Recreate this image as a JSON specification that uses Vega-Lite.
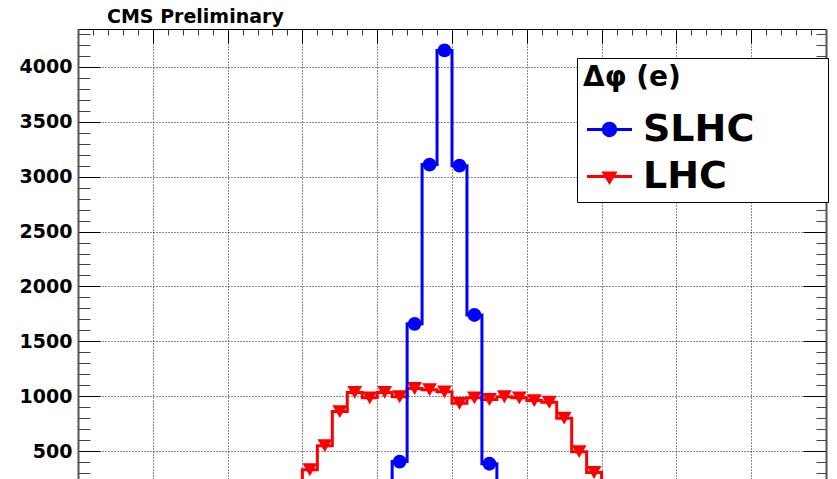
{
  "$schema": "https://vega.github.io/schema/vega-lite/v6.json",
  "width": 748,
  "height": 450,
  "autosize": {"type": "none"},
  "padding": {"left": 78, "top": 29, "right": 11, "bottom": 0},
  "background": "white",
  "title": {"text": "CMS Preliminary", "anchor": "start", "frame": "group", "dx": 29, "dy": 19, "offset": 6, "font": "DejaVu Sans", "fontSize": 19, "fontWeight": "bold", "color": "#000", "baseline": "alphabetic"},
  "config": {"view": {"stroke": null}},
  "data": {"values": [
    {"series": "SLHC", "bin": 19.5, "count": 5},
    {"series": "SLHC", "bin": 20.5, "count": 40},
    {"series": "SLHC", "bin": 21.5, "count": 405},
    {"series": "SLHC", "bin": 22.5, "count": 1660},
    {"series": "SLHC", "bin": 23.5, "count": 3110},
    {"series": "SLHC", "bin": 24.5, "count": 4150},
    {"series": "SLHC", "bin": 25.5, "count": 3100},
    {"series": "SLHC", "bin": 26.5, "count": 1740},
    {"series": "SLHC", "bin": 27.5, "count": 385},
    {"series": "SLHC", "bin": 28.5, "count": 40},
    {"series": "SLHC", "bin": 29.5, "count": 5},
    {"series": "LHC", "bin": 12.5, "count": 20},
    {"series": "LHC", "bin": 13.5, "count": 70},
    {"series": "LHC", "bin": 14.5, "count": 180},
    {"series": "LHC", "bin": 15.5, "count": 330},
    {"series": "LHC", "bin": 16.5, "count": 550},
    {"series": "LHC", "bin": 17.5, "count": 860},
    {"series": "LHC", "bin": 18.5, "count": 1035},
    {"series": "LHC", "bin": 19.5, "count": 985},
    {"series": "LHC", "bin": 20.5, "count": 1035},
    {"series": "LHC", "bin": 21.5, "count": 995},
    {"series": "LHC", "bin": 22.5, "count": 1070},
    {"series": "LHC", "bin": 23.5, "count": 1060},
    {"series": "LHC", "bin": 24.5, "count": 1040},
    {"series": "LHC", "bin": 25.5, "count": 935},
    {"series": "LHC", "bin": 26.5, "count": 985},
    {"series": "LHC", "bin": 27.5, "count": 970},
    {"series": "LHC", "bin": 28.5, "count": 995},
    {"series": "LHC", "bin": 29.5, "count": 985},
    {"series": "LHC", "bin": 30.5, "count": 960},
    {"series": "LHC", "bin": 31.5, "count": 945},
    {"series": "LHC", "bin": 32.5, "count": 800},
    {"series": "LHC", "bin": 33.5, "count": 495},
    {"series": "LHC", "bin": 34.5, "count": 305},
    {"series": "LHC", "bin": 35.5, "count": 170},
    {"series": "LHC", "bin": 36.5, "count": 60},
    {"series": "LHC", "bin": 37.5, "count": 20}
  ]},
  "resolve": {"scale": {"x": "shared", "y": "shared"}, "axis": {"x": "independent", "y": "independent"}},
  "layer": [
    {
      "transform": [{"filter": "datum.series === 'LHC'"}],
      "mark": {"type": "line", "interpolate": "step", "color": "#ff0000", "strokeWidth": 3, "clip": true},
      "encoding": {
        "x": {"field": "bin", "type": "quantitative", "scale": {"domain": [0, 50], "nice": false, "zero": false},
          "axis": {"orient": "top", "values": [0, 5, 10, 15, 20, 25, 30, 35, 40, 45, 50], "labels": false, "title": null, "tickSize": -14, "tickColor": "#000", "tickWidth": 1, "domain": true, "domainColor": "#000", "domainWidth": 1, "grid": true, "gridColor": "#000", "gridDash": [1, 2], "gridWidth": 1, "gridOpacity": 0.9}},
        "y": {"field": "count", "type": "quantitative", "scale": {"domain": [246, 4345], "nice": false, "zero": false},
          "axis": {"orient": "left", "values": [500, 1000, 1500, 2000, 2500, 3000, 3500, 4000], "format": "d", "title": null, "tickSize": -22, "tickColor": "#000", "tickWidth": 1, "domain": true, "domainColor": "#555", "domainWidth": 2, "labelFont": "DejaVu Sans", "labelFontWeight": "bold", "labelFontSize": 19, "labelColor": "#000", "labelPadding": 28, "grid": true, "gridColor": "#000", "gridDash": [1, 2], "gridWidth": 1, "gridOpacity": 0.9}}
      }
    },
    {
      "transform": [{"filter": "datum.series === 'LHC'"}],
      "mark": {"type": "point", "filled": true, "shape": "triangle-down", "size": 220, "opacity": 1, "clip": true},
      "encoding": {
        "x": {"field": "bin", "type": "quantitative", "scale": {"domain": [0, 50], "nice": false, "zero": false},
          "axis": {"orient": "top", "values": [1,2,3,4,6,7,8,9,11,12,13,14,16,17,18,19,21,22,23,24,26,27,28,29,31,32,33,34,36,37,38,39,41,42,43,44,46,47,48,49], "labels": false, "title": null, "tickSize": -6, "tickColor": "#333", "tickWidth": 1, "domain": false, "grid": false}},
        "y": {"field": "count", "type": "quantitative", "scale": {"domain": [246, 4345], "nice": false, "zero": false},
          "axis": {"orient": "left", "values": [300,400,600,700,800,900,1100,1200,1300,1400,1600,1700,1800,1900,2100,2200,2300,2400,2600,2700,2800,2900,3100,3200,3300,3400,3600,3700,3800,3900,4100,4200,4300], "labels": false, "title": null, "tickSize": -12, "tickColor": "#444", "tickWidth": 1, "domain": false, "grid": false}},
        "color": {"field": "series", "type": "nominal", "scale": {"domain": ["LHC"], "range": ["#ff0000"]},
          "legend": {"orient": "none", "legendX": 499, "legendY": 29, "title": "Δφ (e)", "titleLimit": 400, "titleFont": "DejaVu Sans", "titleFontSize": 28, "titleFontWeight": "bold", "titleColor": "#000", "titleBaseline": "top", "titlePadding": 62, "labelFont": "DejaVu Sans", "labelFontSize": 38, "labelFontWeight": "bold", "labelColor": "#000", "labelOffset": 11, "labelLimit": 400, "labelExpr": "datum.label + '\u2003\u2003\u2002\u200b'", "symbolOffset": 4, "symbolSize": 2025, "symbolStrokeWidth": 0, "rowPadding": 2, "padding": 6, "fillColor": "white", "strokeColor": "#000",
            "symbolType": "M-1,-0.065L1,-0.065L1,0.065L-1,0.065Z M-0.36,-0.22L0.36,-0.22L0,0.38Z"}}
      }
    },
    {
      "transform": [{"filter": "datum.series === 'SLHC'"}],
      "mark": {"type": "line", "interpolate": "step", "color": "#0000ff", "strokeWidth": 3, "clip": true},
      "encoding": {
        "x": {"field": "bin", "type": "quantitative", "scale": {"domain": [0, 50], "nice": false, "zero": false}, "axis": null},
        "y": {"field": "count", "type": "quantitative", "scale": {"domain": [246, 4345], "nice": false, "zero": false},
          "axis": {"orient": "right", "values": [500, 1000, 1500, 2000, 2500, 3000, 3500, 4000], "labels": false, "title": null, "tickSize": -23, "tickColor": "#000", "tickWidth": 1, "domain": true, "domainColor": "#555", "domainWidth": 2, "grid": false}}
      }
    },
    {
      "transform": [{"filter": "datum.series === 'SLHC'"}],
      "mark": {"type": "point", "filled": true, "shape": "circle", "size": 190, "opacity": 1, "clip": true},
      "encoding": {
        "x": {"field": "bin", "type": "quantitative", "scale": {"domain": [0, 50], "nice": false, "zero": false}, "axis": null},
        "y": {"field": "count", "type": "quantitative", "scale": {"domain": [246, 4345], "nice": false, "zero": false},
          "axis": {"orient": "right", "values": [300,400,600,700,800,900,1100,1200,1300,1400,1600,1700,1800,1900,2100,2200,2300,2400,2600,2700,2800,2900,3100,3200,3300,3400,3600,3700,3800,3900,4100,4200,4300], "labels": false, "title": null, "tickSize": -10, "tickColor": "#444", "tickWidth": 1, "domain": false, "grid": false}},
        "fill": {"field": "series", "type": "nominal", "scale": {"domain": ["SLHC"], "range": ["#0000ff"]},
          "legend": {"orient": "none", "legendX": 505, "legendY": 78, "title": null, "labelFont": "DejaVu Sans", "labelFontSize": 38, "labelFontWeight": "bold", "labelColor": "#000", "labelOffset": 11, "labelLimit": 400, "symbolOffset": 4, "symbolSize": 2025, "symbolStrokeWidth": 0, "padding": 0,
            "symbolType": "M-1,-0.065L1,-0.065L1,0.065L-1,0.065Z M0.34,0A0.34,0.34,0,1,1,-0.34,0A0.34,0.34,0,1,1,0.34,0Z"}}
      }
    }
  ]
}
